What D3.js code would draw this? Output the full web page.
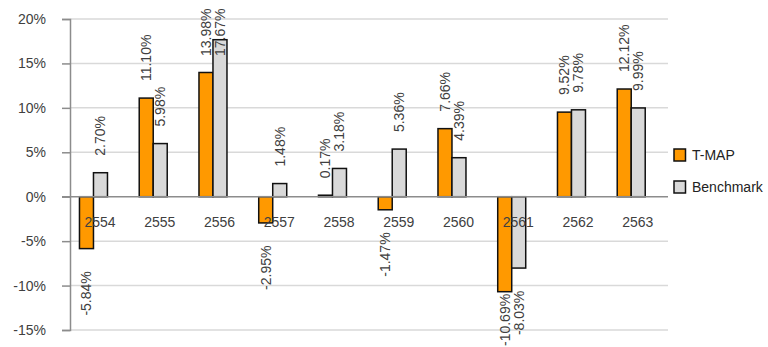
<!DOCTYPE html>
<html>
<head>
<meta charset="utf-8">
<script src="https://cdn.jsdelivr.net/npm/d3@7"></script>
<style>
body { margin: 0; background: #fff; }
text { font-family: "Liberation Sans", Arial, sans-serif; }
</style>
</head>
<body>
<div id="chart"></div>
<script>
// data
var years = ["2554", "2555", "2556", "2557", "2558", "2559", "2560", "2561", "2562", "2563"]
var series = ["T-MAP", "Benchmark"]
var tmap = [-5.84, 11.10, 13.98, -2.95, 0.17, -1.47, 7.66, -10.69, 9.52, 12.12]
var bench = [2.70, 5.98, 17.67, 1.48, 3.18, 5.36, 4.39, -8.03, 9.78, 9.99]
var yTicks = [-15, -10, -5, 0, 5, 10, 15, 20]
var colors = ["#ff9900", "#d9d9d9"]

var w = 768, h = 347

var svg = d3.select("#chart")
	.append("svg")
	.attr("width", w)
	.attr("height", h)

// scales
var y = d3.scaleLinear()
	.domain([-15, 20])
	.range([330, 19])

var x = d3.scaleBand()
	.domain(years)
	.range([63.6, 661.1])

var xs = d3.scaleBand()
	.domain(series)
	.range([-14, 14])

// gridlines
svg.append("g")
	.selectAll("line")
	.data(yTicks.filter(function(d) { return d != 0 }))
	.enter().append("line")
	.attr("x1", 70).attr("x2", 668)
	.attr("y1", function(d) { return y(d) })
	.attr("y2", function(d) { return y(d) })
	.attr("stroke", "#d9d9d9")
	.attr("stroke-width", 1.5)

// y axis
var yAxis = d3.axisLeft(y)
	.tickValues(yTicks)
	.tickSize(8)
	.tickPadding(16)
	.tickFormat(function(d) { return d + "%" })

var yg = svg.append("g")
	.attr("transform", "translate(70,0)")
	.call(yAxis)
yg.select(".domain").attr("stroke", "#8c8c8c").attr("stroke-width", 1.5)
yg.selectAll(".tick line").attr("stroke", "#8c8c8c").attr("stroke-width", 1.5)
yg.selectAll(".tick text")
	.attr("fill", "#404040")
	.style("font-size", "14px")
	.style("font-family", "'Liberation Sans', Arial, sans-serif")

// bars
var rows = years.map(function(yr, i) {
	return { year: yr, vals: [{ s: series[0], v: tmap[i], c: colors[0] }, { s: series[1], v: bench[i], c: colors[1] }] }
})

var groups = svg.append("g")
	.selectAll("g")
	.data(rows)
	.enter().append("g")
	.attr("transform", function(d) { return "translate(" + (x(d.year) + x.bandwidth() / 2) + ",0)" })

groups.selectAll("rect")
	.data(function(d) { return d.vals })
	.enter().append("rect")
	.attr("x", function(d) { return xs(d.s) })
	.attr("width", xs.bandwidth())
	.attr("y", function(d) { return y(Math.max(0, d.v)) })
	.attr("height", function(d) { return Math.abs(y(d.v) - y(0)) })
	.attr("fill", function(d) { return d.c })
	.attr("stroke", "#111")
	.attr("stroke-width", 1.5)

// zero line
svg.append("line")
	.attr("x1", 62).attr("x2", 668)
	.attr("y1", y(0)).attr("y2", y(0))
	.attr("stroke", "#8c8c8c")
	.attr("stroke-width", 1.5)

// category labels
svg.append("g")
	.selectAll("text")
	.data(years)
	.enter().append("text")
	.attr("x", function(d) { return x(d) + x.bandwidth() / 2 + 6.5 })
	.attr("y", 226.5)
	.attr("text-anchor", "middle")
	.attr("fill", "#404040")
	.style("font-size", "14px")
	.text(function(d) { return d })

// data labels, rotated, kept inside the chart area
groups.selectAll("text")
	.data(function(d) { return d.vals })
	.enter().append("text")
	.attr("transform", function(d) {
		var cx = xs(d.s) + xs.bandwidth() / 2
		var len = 8 * (d.v.toFixed(2).length + 1)
		var yy
		if (d.v >= 0) {
			yy = y(d.v) - 17
			if (yy - len < 8) yy = 8 + len
		} else {
			yy = y(d.v) + 19
			if (yy + len > 346) yy = 346 - len
			yy = yy + len
		}
		return "translate(" + cx + "," + yy + ") rotate(-90)"
	})
	.attr("text-anchor", "start")
	.attr("dy", "0.35em")
	.attr("fill", "#404040")
	.style("font-size", "14px")
	.text(function(d) { return d.v.toFixed(2) + "%" })

// legend
var leg = svg.append("g")
	.selectAll("g")
	.data(series)
	.enter().append("g")
	.attr("transform", function(d, i) { return "translate(674," + (149 + i * 32) + ")" })

leg.append("rect")
	.attr("width", 11.5).attr("height", 12)
	.attr("fill", function(d, i) { return colors[i] })
	.attr("stroke", "#111")
	.attr("stroke-width", 1.5)

leg.append("text")
	.attr("x", 18)
	.attr("y", 6)
	.attr("dy", "0.35em")
	.attr("fill", "#222")
	.style("font-size", "14px")
	.text(function(d) { return d })
</script>
</body>
</html>
